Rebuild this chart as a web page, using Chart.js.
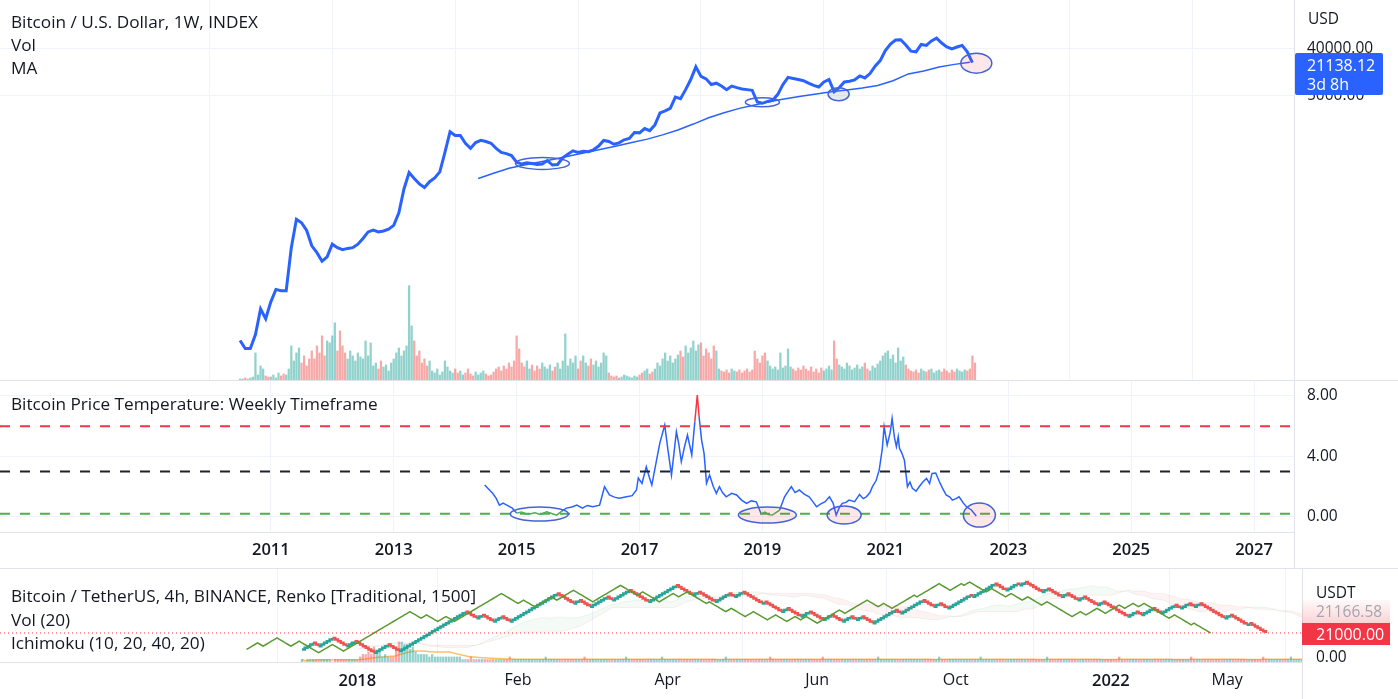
<!DOCTYPE html>
<html>
<head>
<meta charset="utf-8">
<title>Bitcoin weekly</title>
<script src="https://cdn.jsdelivr.net/npm/chart.js@4.4.1/dist/chart.umd.min.js"></script>
<style>
  body { margin: 0; background: #fff; }
  #wrap { position: relative; width: 1398px; height: 699px; overflow: hidden; font-family: "Open Sans", sans-serif; color: #131722; }
  canvas { position: absolute; left: 0; }
  .t { position: absolute; left: 11px; font-size: 17.2px; line-height: 20px; white-space: nowrap; }
  .ax { position: absolute; font-size: 15.5px; line-height: 18px; white-space: nowrap; }
  .hl { position: absolute; background: #e0e3eb; }
</style>
</head>
<body>
<div id="wrap">
  <canvas id="top" width="1398" height="381" style="top:0"></canvas>
  <canvas id="temp" width="1398" height="187" style="top:381px"></canvas>
  <canvas id="renko" width="1398" height="130" style="top:569px"></canvas>

  <div class="hl" style="left:0;top:380px;width:1398px;height:1px"></div>
  <div class="hl" style="left:0;top:568px;width:1398px;height:1px"></div>
  <div class="hl" style="left:1294px;top:0;width:1px;height:568px"></div>
  <div class="hl" style="left:1302px;top:569px;width:1px;height:130px"></div>

  <div class="t" style="top:12px">Bitcoin / U.S. Dollar, 1W, INDEX</div>
  <div class="t" style="top:35px">Vol</div>
  <div class="t" style="top:58px">MA</div>
  <div class="t" style="top:394px">Bitcoin Price Temperature: Weekly Timeframe</div>
  <div class="t" style="top:586px">Bitcoin / TetherUS, 4h, BINANCE, Renko [Traditional, 1500]</div>
  <div class="t" style="top:610px">Vol (20)</div>
  <div class="t" style="top:633px">Ichimoku (10, 20, 40, 20)</div>

  <div class="ax" style="left:1308px;top:9px">USD</div>
  <div class="ax" style="left:1295px;top:53px;width:76px;height:39px;padding:3px 0 0 12px;background:#2962ff;color:#fff;line-height:19px;font-size:16px;border-radius:2px">21138.12<br>3d 8h</div>

  <div class="ax" style="left:1316px;top:583px">USDT</div>
  <div class="ax" style="left:1302px;top:600px;width:74px;height:23px;padding-left:14px;line-height:23px;color:#a3a6ad;background:linear-gradient(to bottom, rgba(242,54,69,0.03), rgba(242,54,69,0.22))">21166.58</div>
  <div class="ax" style="left:1302px;top:623px;width:74px;height:22px;padding-left:14px;line-height:22px;color:#fff;background:#f23645;font-size:16px">21000.00</div>
  <div class="ax" style="left:1316px;top:647px">0.00</div>
</div>

<script>
// ---------- data ----------
// weekly BTC index, one value per month
const priceStart = 2010.5;
const priceStep = 1 / 12;
const btcPrice = [
  0.1, 0.07, 0.07, 0.13, 0.4, 0.26,
  0.55, 0.95, 0.9, 0.9, 6, 21, 18, 12.8, 6.5, 4.8, 3.3, 4,
  7, 6, 5.5, 5.8, 6, 7, 9, 12, 13, 12, 12.5, 13.5,
  16, 28, 80, 165, 127, 100, 85, 110, 130, 170, 400, 1000,
  850, 850, 600, 481, 620, 683, 650, 600, 480, 400, 380, 350,
  260, 240, 255, 245, 236, 240, 280, 230, 235, 315, 370, 430,
  400, 420, 415, 450, 530, 680, 650, 575, 610, 700, 740, 960,
  950, 1150, 1050, 1350, 2300, 2500, 2800, 4600, 4300, 6400, 10000, 17500,
  11500, 10300, 8000, 8500, 7500, 6400, 7500, 7000, 6600, 6400, 6200, 3700,
  3500, 3800, 4000, 5200, 8000, 11000, 10500, 10000, 9500, 8500, 7700, 7200,
  9000, 10000, 5800, 7000, 9000, 9300, 9800, 11700, 10700, 13000, 18000, 23000,
  36000, 48000, 57000, 58000, 46000, 35000, 34000, 47000, 45000, 55000, 62000, 50000,
  42000, 38500, 42000, 45000, 34000, 21138
];

// 200 week moving average, quarterly readings
const maStart = 2014.375;
const maStep = 0.25;
const btcMA = [127, 160, 200, 230, 262, 300, 345, 400, 460, 530, 620, 720, 870, 1080, 1400, 1850,
  2300, 2800, 3250, 3800, 4300, 4800, 5300, 5800, 6300, 6900, 7700, 9500, 12800, 14500, 17300, 19500, 21500];

// volume, two readings per month
const volStart = 2010.5;
const volStep = 1 / 24;
const btcVolume = [
  2,2,3,2,3,4,28,6,15,12,5,4,
  4,6,3,8,5,7,6,12,35,20,28,33,18,25,15,22,30,22,35,28,45,25,40,38,
  45,58,30,50,35,28,22,30,25,20,28,24,22,40,25,38,15,18,12,20,14,16,10,18,
  22,28,33,25,30,35,95,55,40,25,30,18,22,15,20,10,8,12,6,9,20,14,10,8,
  12,8,10,6,8,12,7,5,9,6,8,10,7,5,6,9,12,14,10,15,12,18,14,20,
  45,32,18,14,20,12,16,10,15,12,18,14,12,16,10,14,18,12,20,47,15,22,18,25,
  12,20,25,18,15,22,16,20,14,18,28,25,8,5,4,5,3,4,6,5,4,3,5,4,
  6,8,10,12,7,9,12,18,15,22,28,20,25,18,22,26,30,24,35,28,33,40,30,36,
  38,25,32,28,22,35,30,12,10,9,11,8,12,10,9,11,8,10,12,9,11,30,22,18,
  25,28,20,15,12,14,11,28,13,15,32,14,12,10,13,11,15,12,10,14,9,12,8,13,
  10,12,15,11,40,22,16,14,12,18,15,11,13,16,12,14,18,12,10,15,13,17,20,25,
  28,30,22,26,18,33,20,24,16,12,10,9,11,8,12,10,9,11,12,8,10,11,9,12,
  10,8,11,9,12,10,9,11,10,12,25,18
];

const yearTicks = [2011, 2013, 2015, 2017, 2019, 2021, 2023, 2025, 2027];
const priceTicks = [5000, 40000];

// price temperature indicator
const tempYears = [
  2014.48,2014.55,2014.61,2014.67,2014.72,2014.78,2014.84,2014.93,2015.00,2015.08,
  2015.15,2015.21,2015.30,2015.38,2015.49,2015.57,2015.65,2015.73,2015.81,2015.90,
  2015.98,2016.07,2016.15,2016.24,2016.35,2016.43,2016.51,2016.59,2016.67,2016.79,
  2016.88,2016.95,2016.98,2017.04,2017.11,2017.16,2017.20,2017.27,2017.33,2017.41,
  2017.46,2017.52,2017.56,2017.60,2017.64,2017.68,2017.73,2017.78,2017.85,2017.90,
  2017.94,2017.97,2018.01,2018.05,2018.09,2018.14,2018.20,2018.25,2018.30,2018.35,
  2018.41,2018.50,2018.58,2018.66,2018.74,2018.82,2018.90,2018.98,2019.04,2019.10,
  2019.16,2019.22,2019.28,2019.36,2019.42,2019.47,2019.53,2019.60,2019.68,2019.76,
  2019.82,2019.88,2019.95,2020.02,2020.09,2020.15,2020.20,2020.25,2020.30,2020.36,
  2020.41,2020.50,2020.58,2020.64,2020.69,2020.75,2020.79,2020.85,2020.90,2020.95,
  2020.98,2021.03,2021.08,2021.11,2021.15,2021.18,2021.21,2021.23,2021.27,2021.31,
  2021.36,2021.40,2021.44,2021.50,2021.55,2021.61,2021.67,2021.72,2021.76,2021.82,
  2021.88,2021.93,2021.99,2022.05,2022.09,2022.15,2022.20,2022.27,2022.32,2022.40,2022.48
];
const tempValues = [
  2.1,1.8,1.55,1.2,0.77,0.9,0.77,0.57,0.24,0.32,
  0.2,0.18,0.26,0.15,0.33,0.22,0.11,0.35,0.57,0.65,
  0.77,0.57,0.75,0.66,0.77,1.99,1.44,1.3,1.22,1.32,
  1.4,1.77,2.56,2.2,3.31,2.6,2.1,3.6,4.88,6.07,
  4.5,2.76,4.2,5.63,4.8,3.64,4.6,5.41,4.09,6.3,
  8.06,6.6,5.08,4.2,2.21,2.76,2.0,1.55,1.99,1.6,
  1.32,1.55,1.44,1.1,0.89,1.05,0.99,0.18,0.3,0.14,
  0.11,0.28,0.44,1.32,1.7,1.99,1.6,1.77,1.5,1.32,
  1.0,0.66,0.85,1.0,1.32,0.9,0.11,0.6,0.89,0.95,
  1.1,1.0,1.48,1.2,1.32,1.6,1.99,2.4,3.09,4.5,
  5.96,4.75,5.6,6.52,5.2,4.64,5.3,4.53,4.2,3.75,
  1.99,2.3,1.88,1.7,1.99,2.3,2.54,2.2,2.87,2.9,
  2.32,1.9,1.44,1.3,1.1,1.2,1.32,0.9,0.66,0.45,0.05
];
const tempLevels = [6, 3, 0.2];
const tempTicks = [0, 4, 8];

// renko bricks of 1500: runs of up (+) and down (-) bricks
const brickSize = 1500;
const renkoStartBrick = 3;
const renkoRuns = [5,-2,5, -5,3,-7, 5, -4, 24, -4,2,-4,3,-3, 17, -6,2,-4, 6,-2,6, -7,1, 9,
  -6,2,-6, 5,-2,3, -7,1,-6, 2,-5,3,-5,3,-4,3,-2,2,-4, 8,-2,8, -4,2,-3, 8,-1,8, -4,
  4,-1,2, -6,2,-5,2,-4,2,-5,2,-2, -7, 3,-2,4,-3,5,-2,3,-2,2,-1, -8,2,-6,1,-6];
// renko volume per brick
const renkoVolume = ("1011111111101111111112" + "334363423" + "222" + "5887" + "75643" +
  "333232222222222" +
  "1112111111111111121111111111112111111111111121111111111111121111111111" +
  "1121111111111111111111111211111111111111121111111111111111112111111111" +
  "1111111111211111111111111111111121111111111111121111111111111111111111" +
  "1211111111111111111111111112111111111111111111111111121111111111111111" +
  "11111111121111111112111111111111111111111111111111211111111111111111111").split("").map(Number);
const renkoTickLabels = ["2018", "Feb", "Apr", "Jun", "Oct", "2022", "May"];
const renkoTickBricks = [20, 78, 132, 186, 236, 292, 334];
const lastPrice = 21000;

// ---------- styles ----------
const BLUE = "#2962ff";
const GRID = "#f0f3fa";
const TXT = "#131722";
const UP = "rgba(38,166,154,0.5)";
const DOWN = "rgba(239,83,80,0.5)";
const PINK = "rgba(242,54,69,0.12)";
const X_MIN = 2006.593, X_MAX = 2027.65;

Chart.defaults.font.family = '"Open Sans", sans-serif';
Chart.defaults.color = TXT;
Chart.defaults.animation = false;

// hand drawn ellipses, centre in data units, radius in px
function ellipses(items) {
  return {
    id: "ellipses",
    afterDatasetsDraw(chart) {
      const ctx = chart.ctx;
      items.forEach(e => {
        const cx = chart.scales.x.getPixelForValue(e.x);
        const cy = chart.scales.y.getPixelForValue(e.y);
        ctx.save();
        ctx.beginPath();
        ctx.ellipse(cx, cy, e.rx, e.ry, 0, 0, Math.PI * 2);
        if (typeof e.shade === "string") { ctx.fillStyle = e.shade; ctx.fill(); }
        ctx.strokeStyle = "#4463d6";
        ctx.lineWidth = 1.5;
        ctx.stroke();
        ctx.restore();
      });
    }
  };
}

function fixTicks(list) {
  return scale => { scale.ticks = list.map(v => ({ value: v })); };
}
// no extra label padding around the plot area
function noPad(size, key) {
  return s => {
    s[key] = size;
    s.paddingTop = 0; s.paddingBottom = 0; s.paddingLeft = 0; s.paddingRight = 0;
  };
}

// ---------- top pane: price, volume, MA ----------
const pricePts = btcPrice.map((v, i) => ({ x: priceStart + i * priceStep, y: v }));
const maPts = btcMA.map((v, i) => ({ x: maStart + i * maStep, y: v }));
const volPts = btcVolume.map((v, j) => ({ x: volStart + j * volStep, y: v }));
const volColors = btcVolume.map((v, j) => {
  const m = Math.floor(j / 2);
  return (m === 0 || btcPrice[m] >= btcPrice[m - 1]) ? UP : DOWN;
});

new Chart(document.getElementById("top"), {
  type: "line",
  data: {
    datasets: [
      { type: "bar", data: volPts, yAxisID: "yv", backgroundColor: volColors, barThickness: 1.6, order: 3 },
      { data: maPts, borderColor: BLUE, borderWidth: 1.5, pointRadius: 0, order: 2 },
      { data: pricePts, borderColor: BLUE, borderWidth: 3, pointRadius: 0, order: 1 }
    ]
  },
  options: {
    responsive: false,
    layout: { padding: 0 },
    plugins: { legend: { display: false }, tooltip: { enabled: false } },
    scales: {
      x: {
        type: "linear", min: X_MIN, max: X_MAX, offset: false,
        afterBuildTicks: fixTicks(yearTicks),
        afterFit: noPad(0, "height"),
        ticks: { display: false },
        grid: { color: GRID, drawTicks: false },
        border: { display: false }
      },
      y: {
        type: "logarithmic", position: "right", min: 0.0167, max: 334000,
        afterBuildTicks: fixTicks(priceTicks),
        afterFit: noPad(104, "width"),
        ticks: { padding: 13, font: { size: 15.5 }, callback: v => Number(v).toFixed(2) },
        grid: { color: GRID, drawTicks: false },
        border: { display: false }
      },
      yv: { display: false, min: 0, max: 380 }
    }
  },
  plugins: [ellipses([
    { x: 2015.42, y: 247, rx: 27, ry: 6 },
    { x: 2019.0, y: 3670, rx: 17, ry: 4.5 },
    { x: 2020.24, y: 5220, rx: 10.5, ry: 6.5, shade: "rgba(120,140,200,0.18)" },
    { x: 2022.48, y: 20600, rx: 15.5, ry: 10, shade: PINK }
  ])]
});

// ---------- middle pane: temperature ----------
const tempPts = tempValues.map((v, i) => ({ x: tempYears[i], y: v }));
const levelColors = ["#f23645", "#1e222d", "#4caf50"];
const levelSets = tempLevels.map((lv, i) => ({
  data: [{ x: X_MIN, y: lv }, { x: X_MAX, y: lv }],
  borderColor: levelColors[i], borderWidth: 2, borderDash: [10, 10], pointRadius: 0
}));

new Chart(document.getElementById("temp"), {
  type: "line",
  data: {
    datasets: levelSets.concat([{
      data: tempPts, borderColor: BLUE, borderWidth: 1.5, pointRadius: 0,
      segment: {
        borderColor: c => {
          const a = c.p0.parsed.y, b = c.p1.parsed.y;
          if (Math.max(a, b) > 7) return "#f23645";
          if (Math.max(a, b) < 0.45) return "#4caf50";
          return BLUE;
        }
      }
    }])
  },
  options: {
    responsive: false,
    layout: { padding: 0 },
    plugins: { legend: { display: false }, tooltip: { enabled: false } },
    scales: {
      x: {
        type: "linear", min: X_MIN, max: X_MAX, offset: false,
        afterBuildTicks: fixTicks(yearTicks),
        afterFit: noPad(36, "height"),
        ticks: { padding: 8, autoSkip: false, maxRotation: 0, font: { size: 16.5, weight: "600" }, callback: v => String(v) },
        grid: { color: GRID, drawTicks: false },
        border: { display: true, color: "#e0e3eb" }
      },
      y: {
        position: "right", min: -1.01, max: 8.99,
        afterBuildTicks: fixTicks(tempTicks),
        afterFit: noPad(104, "width"),
        ticks: { padding: 13, font: { size: 15.5 }, callback: v => Number(v).toFixed(2) },
        grid: { color: GRID, drawTicks: false },
        border: { display: false }
      }
    }
  },
  plugins: [ellipses([
    { x: 2015.37, y: 0.18, rx: 29, ry: 7 },
    { x: 2019.08, y: 0.11, rx: 29, ry: 8, shade: PINK },
    { x: 2020.33, y: 0.11, rx: 17, ry: 9, shade: PINK },
    { x: 2022.53, y: 0.11, rx: 16, ry: 12, shade: PINK }
  ])]
});

// ---------- bottom pane: renko ----------
const renkoCloses = [];
let level = renkoStartBrick;
renkoRuns.forEach(run => {
  for (let k = 0; k < Math.abs(run); k++) {
    level += Math.sign(run);
    renkoCloses.push(level * brickSize);
  }
});
const renkoPts = renkoCloses.map((v, i) => ({ x: i, y: v }));
const lagShift = 20;
const lagPts = renkoCloses.map((v, i) => ({ x: i - lagShift, y: v }));

function midRange(arr, end, len) {
  const s = arr.slice(Math.max(0, end - len + 1), end + 1);
  return (Math.max(...s) + Math.min(...s)) / 2;
}
const spanA = renkoCloses.map((c, i) => ({ x: i + lagShift, y: (midRange(renkoCloses, i, 10) + midRange(renkoCloses, i, 20)) / 2 }));
const spanB = renkoCloses.map((c, i) => ({ x: i + lagShift, y: midRange(renkoCloses, i, 40) }));

const rVolPts = renkoVolume.map((v, i) => ({ x: i, y: v }));
const rVolColors = renkoCloses.map((c, i) => (i === 0 || c > renkoCloses[i - 1]) ? UP : DOWN);
const rVolMA = renkoVolume.map((v, i) => {
  const s = renkoVolume.slice(Math.max(0, i - 19), i + 1);
  return { x: i, y: s.reduce((a, b) => a + b, 0) / s.length };
});

new Chart(document.getElementById("renko"), {
  type: "line",
  data: {
    datasets: [
      { data: spanA, borderColor: "rgba(76,175,80,0.1)", borderWidth: 1, pointRadius: 0,
        fill: { target: "+1", above: "rgba(76,175,80,0.06)", below: "rgba(242,54,69,0.06)" } },
      { data: spanB, borderColor: "rgba(242,54,69,0.08)", borderWidth: 1, pointRadius: 0 },
      { type: "bar", data: rVolPts, yAxisID: "yv", backgroundColor: rVolColors, barThickness: 1.6 },
      { data: rVolMA, yAxisID: "yv", borderColor: "rgba(255,152,0,0.6)", borderWidth: 1.5, pointRadius: 0 },
      { data: [{ x: -109, y: lastPrice }, { x: 361, y: lastPrice }], borderColor: "#f23645", borderWidth: 1, borderDash: [1, 3], pointRadius: 0 },
      { data: lagPts, borderColor: "#5a9a32", borderWidth: 1.5, pointRadius: 0 },
      { data: renkoPts, borderWidth: 2.5, pointRadius: 0, stepped: true,
        segment: { borderColor: c => c.p1.parsed.y > c.p0.parsed.y ? "#26a69a" : "#ef5350" } }
    ]
  },
  options: {
    responsive: false,
    layout: { padding: 0 },
    plugins: { legend: { display: false }, tooltip: { enabled: false } },
    scales: {
      x: {
        type: "linear", min: -109, max: 361, offset: false,
        afterBuildTicks: fixTicks(renkoTickBricks),
        afterFit: noPad(37, "height"),
        ticks: {
          padding: 9, autoSkip: false, maxRotation: 0,
          callback: v => renkoTickLabels[renkoTickBricks.indexOf(v)],
          font: c => {
            const lab = renkoTickLabels[renkoTickBricks.indexOf(c.tick ? c.tick.value : -1)] || "";
            return /^\d{4}$/.test(lab) ? { size: 16.5, weight: "600" } : { size: 16, weight: "400" };
          }
        },
        grid: { color: GRID, drawTicks: false },
        border: { display: true, color: "#e0e3eb" }
      },
      y: {
        position: "right", min: -5478, max: 79430,
        afterFit: noPad(96, "width"),
        ticks: { display: false },
        grid: { display: false },
        border: { display: false }
      },
      yv: { display: false, min: 0, max: 37 }
    }
  }
});
</script>
</body>
</html>
